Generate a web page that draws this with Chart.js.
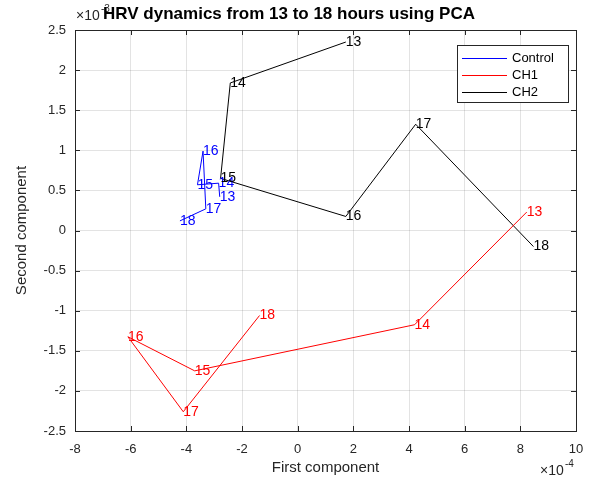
<!DOCTYPE html>
<html>
<head>
<meta charset="utf-8">
<script src="https://cdn.jsdelivr.net/npm/chart.js@4"></script>
<style>
  html,body{margin:0;padding:0;background:#fff;}
  #wrap{width:600px;height:482px;}
</style>
</head>
<body>
<div id="wrap"><canvas id="pca"></canvas></div>
<script>
// values, x in units of 1e-4, y in units of 1e-3
const hours = ['13','14','15','16','17','18'];
const controlX = [-2.80, -2.84, -3.60, -3.40, -3.30, -4.23];
const controlY = [0.42, 0.59, 0.57, 0.99, 0.27, 0.12];
const ch1X = [8.23, 4.20, -3.70, -6.10, -4.11, -1.37];
const ch1Y = [0.23, -1.175, -1.75, -1.325, -2.26, -1.06];
const ch2X = [1.73, -2.42, -2.77, 1.73, 4.24, 8.47];
const ch2Y = [2.35, 1.84, 0.65, 0.175, 1.325, -0.20];
const seriesNames = ['Control', 'CH1', 'CH2'];
const seriesColors = ['#0000ff', '#ff0000', '#000000'];

const FONT = '"Liberation Sans", Arial, Helvetica, sans-serif';
const axisColor = '#262626';

function pts(xs, ys){ return xs.map((x,i)=>({x:x, y:ys[i]})); }

const datasets = [pts(controlX,controlY), pts(ch1X,ch1Y), pts(ch2X,ch2Y)].map((d,i)=>({
  label: seriesNames[i], data: d, showLine: true, borderColor: seriesColors[i],
  borderWidth: 1, pointRadius: 0, fill: false, tension: 0
}));

// frame, inward ticks, point labels, titles, legend
const matlabLook = {
  id: 'matlabLook',
  afterDatasetsDraw(chart){
    const ctx = chart.ctx, a = chart.chartArea;
    const xs = chart.scales.x, ys = chart.scales.y;
    ctx.save();
    // hour labels next to points
    ctx.font = '14px ' + FONT;
    ctx.textAlign = 'left';
    ctx.textBaseline = 'middle';
    chart.data.datasets.forEach((ds,i)=>{
      ctx.fillStyle = seriesColors[i];
      ds.data.forEach((p,j)=>{
        ctx.fillText(hours[j], xs.getPixelForValue(p.x), ys.getPixelForValue(p.y));
      });
    });
    // frame
    ctx.strokeStyle = axisColor;
    ctx.lineWidth = 1;
    ctx.strokeRect(Math.round(a.left)+0.5, Math.round(a.top)+0.5, Math.round(a.right-a.left), Math.round(a.bottom-a.top));
    // inward ticks
    ctx.beginPath();
    xs.ticks.forEach(t=>{
      const px = Math.round(xs.getPixelForValue(t.value))+0.5;
      ctx.moveTo(px, a.bottom); ctx.lineTo(px, a.bottom-5);
      ctx.moveTo(px, a.top); ctx.lineTo(px, a.top+5);
    });
    ys.ticks.forEach(t=>{
      const py = Math.round(ys.getPixelForValue(t.value))+0.5;
      ctx.moveTo(a.left, py); ctx.lineTo(a.left+5, py);
      ctx.moveTo(a.right, py); ctx.lineTo(a.right-5, py);
    });
    ctx.stroke();
    // axis titles
    ctx.fillStyle = axisColor;
    ctx.font = '15px ' + FONT;
    ctx.textAlign = 'center';
    ctx.textBaseline = 'middle';
    ctx.fillText('First component', (a.left+a.right)/2, 468);
    ctx.save();
    ctx.translate(22, (a.top+a.bottom)/2);
    ctx.rotate(-Math.PI/2);
    ctx.fillText('Second component', 0, 0);
    ctx.restore();
    // exponents
    ctx.textAlign = 'left';
    ctx.font = '14px ' + FONT;
    ctx.fillText('\u00d710', 540, 471);
    ctx.font = '10px ' + FONT;
    ctx.fillText('-4', 565, 464);
    ctx.font = '14px ' + FONT;
    ctx.fillText('\u00d710', 76, 16);
    ctx.font = '10px ' + FONT;
    ctx.fillText('-3', 101, 9);
    // title on top
    ctx.fillStyle = '#000';
    ctx.font = 'bold 17px ' + FONT;
    ctx.textAlign = 'center';
    ctx.fillText('HRV dynamics from 13 to 18 hours using PCA', 289, 14);
    // legend
    const lx = 457, ly = 45, lw = 111, lh = 57;
    ctx.fillStyle = '#fff';
    ctx.fillRect(lx, ly, lw, lh);
    ctx.strokeStyle = axisColor;
    ctx.strokeRect(lx+0.5, ly+0.5, lw, lh);
    ctx.font = '13px ' + FONT;
    ctx.textAlign = 'left';
    seriesNames.forEach((n,i)=>{
      const yy = ly + 12.5 + i*17;
      ctx.strokeStyle = seriesColors[i];
      ctx.beginPath();
      ctx.moveTo(lx+5, Math.round(yy)+0.5); ctx.lineTo(lx+50, Math.round(yy)+0.5);
      ctx.stroke();
      ctx.fillStyle = '#000';
      ctx.fillText(n, lx+55, yy+1);
    });
    ctx.restore();
  }
};

new Chart(document.getElementById('pca'), {
  type: 'scatter',
  data: { datasets: datasets },
  options: {
    responsive: true,
    maintainAspectRatio: false,
    animation: false,
    layout: { padding: { left: 0, top: 30, right: 24, bottom: 0 } },
    plugins: { legend: { display: false }, tooltip: { enabled: false }, title: { display: false } },
    scales: {
      x: {
        type: 'linear', min: -8, max: 10,
        ticks: { stepSize: 2, color: axisColor, font: { family: FONT, size: 13 }, padding: 11,
          callback: v => String(v) },
        grid: { color: 'rgba(38,38,38,0.13)', drawTicks: false },
        border: { display: false },
        afterFit: s => { s.height = 51; }
      },
      y: {
        type: 'linear', min: -2.5, max: 2.5,
        ticks: { stepSize: 0.5, color: axisColor, font: { family: FONT, size: 13 }, padding: 9,
          callback: v => String(v) },
        grid: { color: 'rgba(38,38,38,0.13)', drawTicks: false },
        border: { display: false },
        afterFit: s => { s.width = 75; }
      }
    }
  },
  plugins: [matlabLook]
});
</script>
</body>
</html>
